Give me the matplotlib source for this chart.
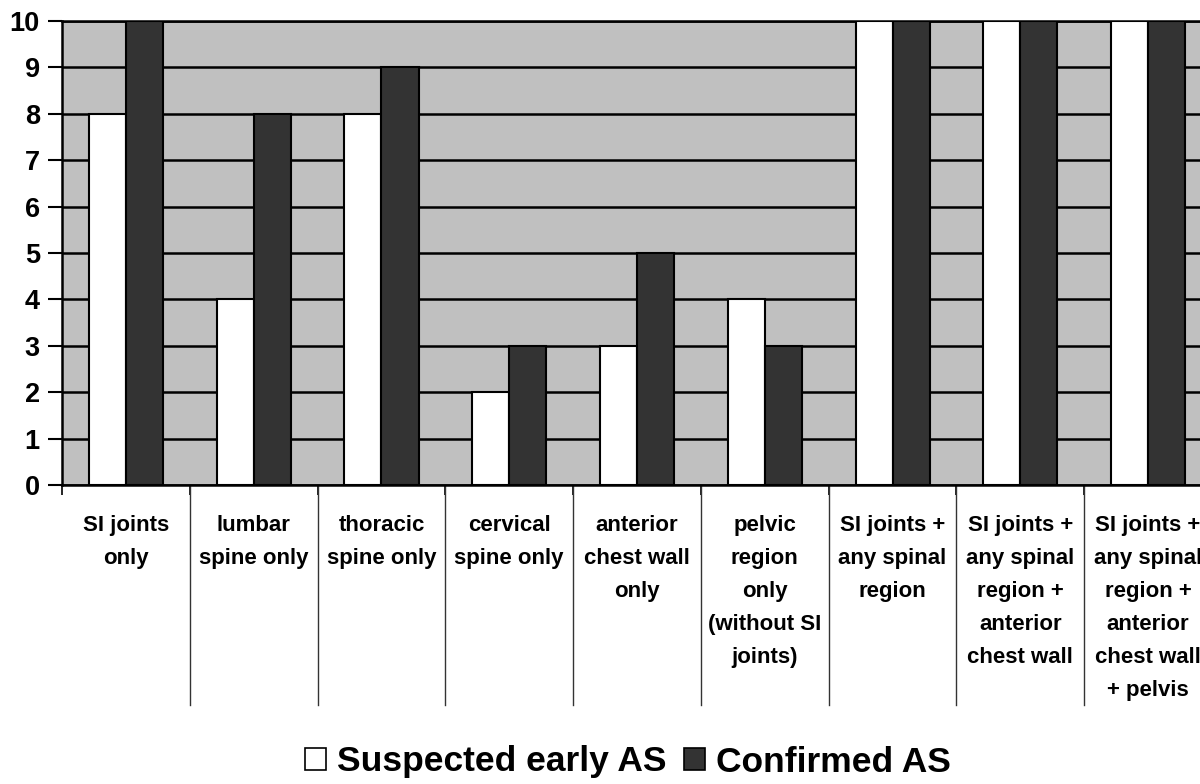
import matplotlib
matplotlib.use("Agg")
import matplotlib.pyplot as plt
import matplotlib.transforms as mtransforms
from matplotlib.patches import Patch
import numpy as np

plt.rcParams['font.family'] = ['Liberation Sans', 'DejaVu Sans']
plt.rcParams['font.weight'] = 'bold'

categories = [
    "SI joints\nonly",
    "lumbar\nspine only",
    "thoracic\nspine only",
    "cervical\nspine only",
    "anterior\nchest wall\nonly",
    "pelvic\nregion\nonly\n(without SI\njoints)",
    "SI joints +\nany spinal\nregion",
    "SI joints +\nany spinal\nregion +\nanterior\nchest wall",
    "SI joints +\nany spinal\nregion +\nanterior\nchest wall\n+ pelvis",
]
suspected = [8, 4, 8, 2, 3, 4, 10, 10, 10]
confirmed = [10, 8, 9, 3, 5, 3, 10, 10, 10]
series_names = ["Suspected early AS", "Confirmed AS"]
yticks = list(range(0, 11))

W, H = 1200, 784
fig = plt.figure(figsize=(W / 100, H / 100), dpi=100)
x0, x1 = 62, 1212
y_top, y_bot = 21, 485
ax = fig.add_axes([x0 / W, 1 - y_bot / H, (x1 - x0) / W, (y_bot - y_top) / H])
ax.set_facecolor("#C0C0C0")

n = len(categories)
x = np.arange(n)
bw = 0.29
ax.bar(x - bw / 2, suspected, bw, color="white", edgecolor="black", linewidth=1.5, zorder=3)
ax.bar(x + bw / 2, confirmed, bw, color="#333333", edgecolor="black", linewidth=1.5, zorder=3)

ax.set_xlim(-0.5, n - 0.5)
ax.set_ylim(0, 10)
ax.set_axisbelow(True)
ax.yaxis.grid(True, color="black", linewidth=1.8, zorder=1)

ax.set_yticks(yticks)
ax.set_yticklabels([str(t) for t in yticks], fontsize=19.5, fontweight='bold')
ax.tick_params(axis='y', direction='out', length=10, width=1.5, pad=6)

bounds = np.arange(n + 1) - 0.5
ax.set_xticks(bounds)
ax.set_xticklabels([])
ax.tick_params(axis='x', direction='out', length=7, width=1.2)

for s in ax.spines.values():
    s.set_color("black")
    s.set_linewidth(1.8)

trans = mtransforms.blended_transform_factory(ax.transData, ax.transAxes)
sep_bottom = -(705 - y_bot) / (y_bot - y_top)
for b in bounds[1:-1]:
    ax.plot([b, b], [0, sep_bottom], color="#333333", linewidth=1.0,
            transform=trans, clip_on=False)

label_top = -(515 - y_bot) / (y_bot - y_top)
for i, lab in enumerate(categories):
    ax.text(i, label_top, lab, transform=trans, ha='center', va='top',
            fontsize=16, fontweight='bold', linespacing=1.75, color="black")

handles = [Patch(facecolor="white", edgecolor="black", linewidth=1.2),
           Patch(facecolor="#333333", edgecolor="black", linewidth=1.2)]
fig.legend(handles, series_names, loc='center', bbox_to_anchor=(628 / W, 1 - 762 / H),
           ncol=2, frameon=False, prop={'size': 25.5, 'weight': 'bold'},
           handlelength=0.6, handleheight=0.6, handletextpad=0.3, columnspacing=0.5,
           borderpad=0, borderaxespad=0)

fig.savefig("out.png", dpi=100)
